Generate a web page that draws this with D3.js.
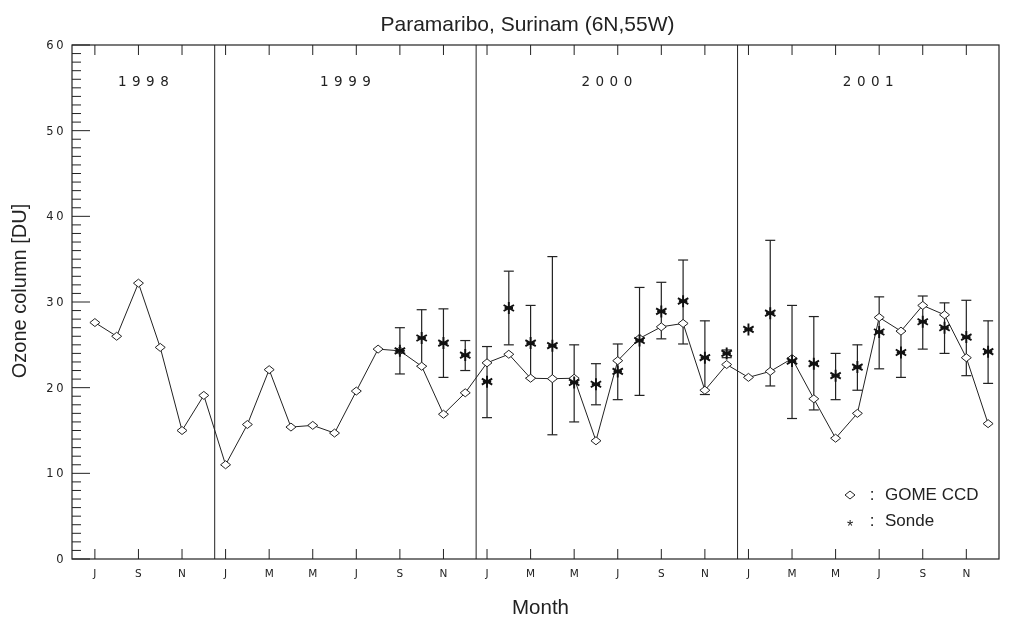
<!DOCTYPE html>
<html>
<head>
<meta charset="utf-8">
<script src="https://cdn.jsdelivr.net/npm/d3@7"></script>
<style>
  body { margin: 0; background: #fff; }
  svg { display: block; will-change: transform; }
</style>
</head>
<body>
<div id="chart"></div>
<script>
// month index 0 = Jul 1998
var monthLabels = ["J", "S", "N", "J", "M", "M", "J", "S", "N", "J", "M", "M", "J", "S", "N", "J", "M", "M", "J", "S", "N"];
var years = ["1998", "1999", "2000", "2001"];

// GOME CCD monthly means, Jul 1998 .. Dec 2001
var gomeValues = [27.6, 26.0, 32.2, 24.7, 15.0, 19.1,
  11.0, 15.7, 22.1, 15.4, 15.6, 14.7, 19.6, 24.5, 24.3, 22.5, 16.9, 19.4,
  22.9, 23.9, 21.1, 21.05, 21.1, 13.8, 23.15, 25.75, 27.1, 27.5, 19.7, 22.7,
  21.2, 21.9, 23.4, 18.7, 14.1, 17.0, 28.2, 26.6, 29.6, 28.5, 23.5, 15.8];

// Sonde, Sep 1999 .. Dec 2001
var sondeMonths = [14, 15, 16, 17, 18, 19, 20, 21, 22, 23, 24, 25, 26, 27, 28, 29,
  30, 31, 32, 33, 34, 35, 36, 37, 38, 39, 40, 41];
var sondeValues = [24.3, 25.8, 25.2, 23.8, 20.7, 29.3, 25.2, 24.9, 20.6, 20.4, 21.9, 25.5, 28.9, 30.1, 23.5, 24.0,
  26.8, 28.7, 23.1, 22.8, 21.4, 22.4, 26.5, 24.1, 27.7, 27.0, 25.9, 24.2];
var sondeLow = [21.6, 22.5, 21.2, 22.0, 16.5, 25.0, 21.1, 14.5, 16.0, 18.0, 18.6, 19.1, 25.7, 25.1, 19.2, 23.5,
  null, 20.2, 16.4, 17.4, 18.6, 19.7, 22.2, 21.2, 24.5, 24.0, 21.4, 20.5];
var sondeHigh = [27.0, 29.1, 29.2, 25.5, 24.8, 33.6, 29.6, 35.3, 25.0, 22.8, 25.1, 31.7, 32.3, 34.9, 27.8, 24.4,
  null, 37.2, 29.6, 28.3, 24.0, 25.0, 30.6, 26.6, 30.7, 29.9, 30.2, 27.8];

var W = 1011, H = 619;
var margin = {top: 45, right: 12, bottom: 60, left: 72};

var svg = d3.select("#chart").append("svg")
    .attr("width", W)
    .attr("height", H);

var x = d3.scaleLinear().domain([-1.05, 41.5]).range([margin.left, W - margin.right]);
var y = d3.scaleLinear().domain([0, 60]).range([H - margin.bottom, margin.top]);

var ink = "#222";
var tickFont = "DejaVu Sans";

// frame
svg.append("rect")
    .attr("x", x(-1.05)).attr("y", y(60))
    .attr("width", x(41.5) - x(-1.05)).attr("height", y(0) - y(60))
    .attr("fill", "none").attr("stroke", ink).attr("stroke-width", 1.2);

// y ticks (major every 10, minor every 1)
var yMinor = d3.range(0, 61, 1);
svg.selectAll("line.ytick").data(yMinor).enter().append("line")
    .attr("class", "ytick")
    .attr("x1", x(-1.05))
    .attr("x2", function(d) { return x(-1.05) + (d % 10 === 0 ? 18 : 9); })
    .attr("y1", function(d) { return y(d); })
    .attr("y2", function(d) { return y(d); })
    .attr("stroke", ink).attr("stroke-width", 1);

svg.selectAll("text.ylab").data(d3.range(0, 61, 10)).enter().append("text")
    .attr("class", "ylab")
    .attr("x", x(-1.05) - 6)
    .attr("y", function(d) { return y(d) + 4; })
    .attr("text-anchor", "end")
    .attr("font-family", tickFont).attr("font-size", "11.5px")
    .attr("letter-spacing", "2.5px")
    .attr("fill", ink)
    .text(function(d) { return d; });

// x ticks every 2 months, bottom and top
var xTicks = d3.range(0, 42, 2);
svg.selectAll("line.xb").data(xTicks).enter().append("line")
    .attr("class", "xb")
    .attr("x1", function(d) { return x(d); }).attr("x2", function(d) { return x(d); })
    .attr("y1", y(0)).attr("y2", y(0) - 10)
    .attr("stroke", ink).attr("stroke-width", 1);
svg.selectAll("line.xt").data(xTicks).enter().append("line")
    .attr("class", "xt")
    .attr("x1", function(d) { return x(d); }).attr("x2", function(d) { return x(d); })
    .attr("y1", y(60)).attr("y2", y(60) + 10)
    .attr("stroke", ink).attr("stroke-width", 1);

svg.selectAll("text.xlab").data(xTicks).enter().append("text")
    .attr("class", "xlab")
    .attr("x", function(d) { return x(d); })
    .attr("y", y(0) + 18)
    .attr("text-anchor", "middle")
    .attr("font-family", tickFont).attr("font-size", "10.5px")
    .attr("fill", ink)
    .text(function(d, i) { return monthLabels[i]; });

// year separators and labels
var yearEdges = [-1.05, 5.5, 17.5, 29.5, 41.5];
svg.selectAll("line.yr").data(yearEdges.slice(1, 4)).enter().append("line")
    .attr("class", "yr")
    .attr("x1", function(d) { return x(d); }).attr("x2", function(d) { return x(d); })
    .attr("y1", y(0)).attr("y2", y(60))
    .attr("stroke", ink).attr("stroke-width", 1);

svg.selectAll("text.yrlab").data(years).enter().append("text")
    .attr("class", "yrlab")
    .attr("x", function(d, i) { return (x(yearEdges[i]) + x(yearEdges[i + 1])) / 2 + 2.75; })
    .attr("y", y(60) + 40.5)
    .attr("text-anchor", "middle")
    .attr("font-family", tickFont).attr("font-size", "13.5px")
    .attr("letter-spacing", "5.5px")
    .attr("fill", ink)
    .text(function(d) { return d; });

// error bars
var sonde = sondeMonths.map(function(m, i) {
  return {m: m, v: sondeValues[i], lo: sondeLow[i], hi: sondeHigh[i]};
});
var bars = sonde.filter(function(d) { return d.lo !== null; });
var eb = svg.append("g").attr("stroke", ink).attr("stroke-width", 1.2);
eb.selectAll("line.eb").data(bars).enter().append("line")
    .attr("x1", function(d) { return x(d.m); }).attr("x2", function(d) { return x(d.m); })
    .attr("y1", function(d) { return y(d.lo); }).attr("y2", function(d) { return y(d.hi); });
eb.selectAll("line.cap-hi").data(bars).enter().append("line")
    .attr("x1", function(d) { return x(d.m) - 5; }).attr("x2", function(d) { return x(d.m) + 5; })
    .attr("y1", function(d) { return y(d.hi); }).attr("y2", function(d) { return y(d.hi); });
eb.selectAll("line.cap-lo").data(bars).enter().append("line")
    .attr("x1", function(d) { return x(d.m) - 5; }).attr("x2", function(d) { return x(d.m) + 5; })
    .attr("y1", function(d) { return y(d.lo); }).attr("y2", function(d) { return y(d.lo); });

// GOME line
var line = d3.line()
    .x(function(d, i) { return x(i); })
    .y(function(d) { return y(d); });
svg.append("path")
    .datum(gomeValues)
    .attr("d", line)
    .attr("fill", "none").attr("stroke", ink).attr("stroke-width", 1);

function diamond(cx, cy, w, h) {
  return "M" + (cx - w) + "," + cy + "L" + cx + "," + (cy - h) + "L" + (cx + w) + "," + cy + "L" + cx + "," + (cy + h) + "Z";
}
function asterisk(cx, cy, r) {
  var p = "";
  [90, 30, 150].forEach(function(a) {
    var dx = r * Math.cos(a * Math.PI / 180), dy = r * Math.sin(a * Math.PI / 180);
    p += "M" + (cx - dx) + "," + (cy - dy) + "L" + (cx + dx) + "," + (cy + dy);
  });
  p += "M" + (cx - r * 0.7) + "," + cy + "L" + (cx + r * 0.7) + "," + cy;
  return p;
}

svg.selectAll("path.gome").data(gomeValues).enter().append("path")
    .attr("class", "gome")
    .attr("d", function(d, i) { return diamond(x(i), y(d), 5, 4); })
    .attr("fill", "#fff").attr("stroke", ink).attr("stroke-width", 1);

svg.selectAll("path.sonde").data(sonde).enter().append("path")
    .attr("class", "sonde")
    .attr("d", function(d) { return asterisk(x(d.m), y(d.v), 6); })
    .attr("fill", "none").attr("stroke", "#111").attr("stroke-width", 1.9);

// legend
var lg = svg.append("g");
lg.append("path").attr("d", diamond(850, 495, 5, 4))
    .attr("fill", "#fff").attr("stroke", ink).attr("stroke-width", 1);
lg.append("text").attr("x", 850).attr("y", 532)
    .attr("text-anchor", "middle")
    .attr("font-family", "Liberation Sans").attr("font-size", "16px").attr("fill", ink)
    .text("*");
lg.selectAll("text.lc").data([495, 521]).enter().append("text")
    .attr("class", "lc")
    .attr("x", 872).attr("y", function(d) { return d + 5; })
    .attr("text-anchor", "middle")
    .attr("font-family", "Liberation Sans").attr("font-size", "17px").attr("fill", ink)
    .text(":");
lg.selectAll("text.lt").data(["GOME CCD", "Sonde"]).enter().append("text")
    .attr("class", "lt")
    .attr("x", 885).attr("y", function(d, i) { return 500 + i * 26; })
    .attr("font-family", "Liberation Sans").attr("font-size", "17px").attr("fill", ink)
    .text(function(d) { return d; });

// titles
svg.append("text")
    .attr("x", 527.5).attr("y", 31)
    .attr("text-anchor", "middle")
    .attr("font-family", "Liberation Sans").attr("font-size", "21px").attr("fill", ink)
    .text("Paramaribo, Surinam (6N,55W)");

svg.append("text")
    .attr("x", 540.5).attr("y", 614)
    .attr("text-anchor", "middle")
    .attr("font-family", "Liberation Sans").attr("font-size", "20.5px").attr("fill", ink)
    .text("Month");

svg.append("text")
    .attr("transform", "translate(26,291) rotate(-90)")
    .attr("text-anchor", "middle")
    .attr("font-family", "Liberation Sans").attr("font-size", "20px").attr("fill", ink)
    .text("Ozone column [DU]");
</script>
</body>
</html>
